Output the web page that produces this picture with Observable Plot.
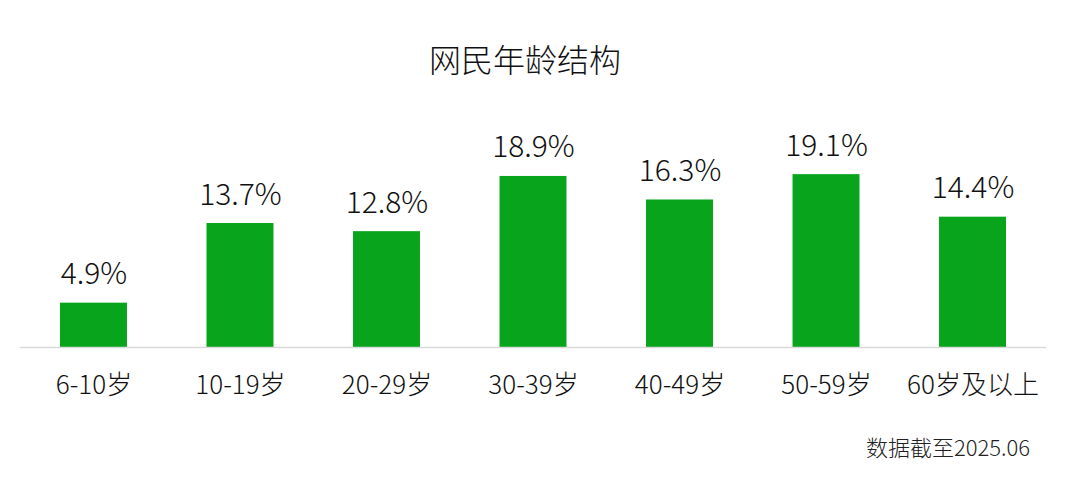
<!DOCTYPE html>
<html><head><meta charset="utf-8">
<script src="https://cdn.jsdelivr.net/npm/d3@7"></script>
<script src="https://cdn.jsdelivr.net/npm/@observablehq/plot@0.6"></script>
<style>
body{margin:0;background:#fff;font-family:"Noto Sans CJK SC","Noto Sans",sans-serif;font-weight:300;}
#wrap{position:relative;width:1080px;height:482px;}
#title{position:absolute;left:0;width:1050px;top:38px;text-align:center;font-size:32px;color:#111;line-height:40px;font-weight:300;}
#note{position:absolute;left:866px;top:432px;font-size:22px;color:#222;line-height:28px;white-space:nowrap;font-weight:300;}
svg text{font-weight:300;}
</style></head>
<body><div id="wrap"><div id="chart"></div><div id="title">网民年龄结构</div><div id="note">数据截至2025.06</div></div>
<script>
const categories = ["6-10岁","10-19岁","20-29岁","30-39岁","40-49岁","50-59岁","60岁及以上"];
const values = [4.9, 13.7, 12.8, 18.9, 16.3, 19.1, 14.4];
const labels = ["4.9%","13.7%","12.8%","18.9%","16.3%","19.1%","14.4%"];
const data = categories.map((c,i)=>({cat:c, value:values[i], label:labels[i]}));
const chart = Plot.plot({
  width:1080, height:482,
  marginLeft:20, marginRight:34, marginTop:166, marginBottom:135,
  style:{fontFamily:'"Noto Sans CJK SC","Noto Sans",sans-serif', background:"#fff", color:"#111"},
  x:{domain:categories, paddingInner:0.543, paddingOuter:0.273, align:0.5, round:false, label:null},
  y:{domain:[0,20], axis:null},
  marks:[
    Plot.barY(data,{x:"cat", y:"value", fill:"#07a41c"}),
    Plot.ruleY([0],{stroke:"#d9d9d9", strokeWidth:1.5}),
    Plot.text(data,{x:"cat", y:"value", text:"label", dy:-19, lineAnchor:"bottom", fontSize:30, fontWeight:300, fill:"#111"}),
    Plot.axisX({tickSize:0, tickPadding:28, fontSize:26, fontWeight:300, label:null, fill:"#111"})
  ]
});
document.getElementById("chart").appendChild(chart);
</script></body></html>
